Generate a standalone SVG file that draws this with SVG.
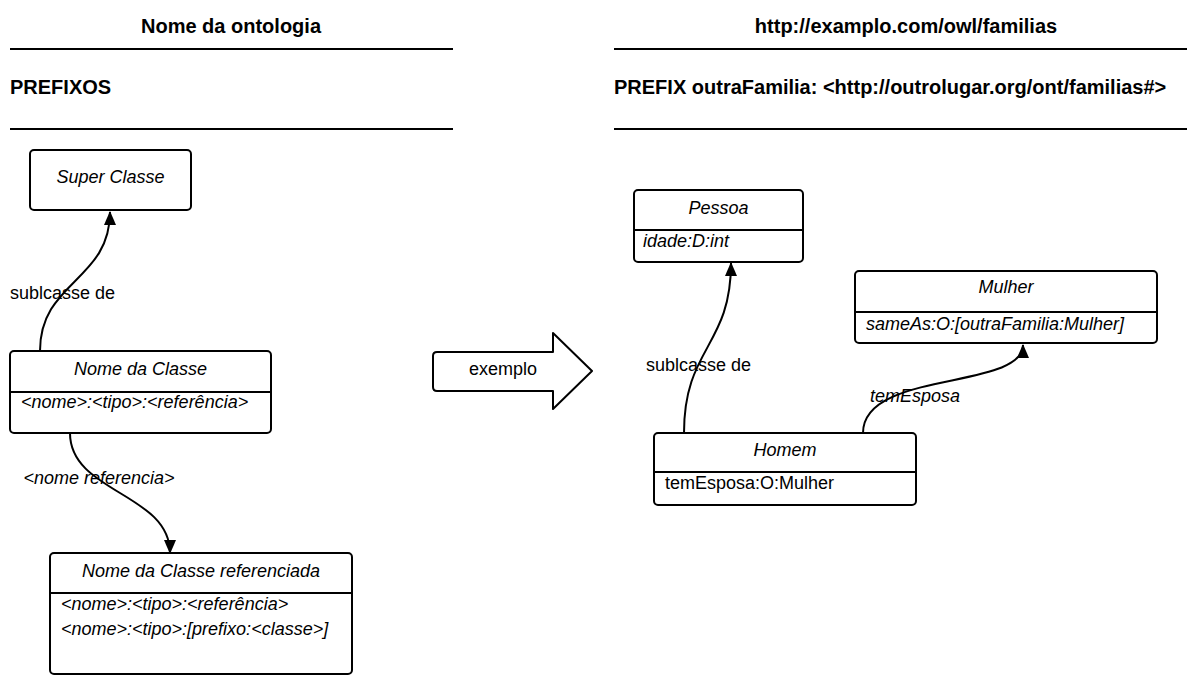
<svg xmlns="http://www.w3.org/2000/svg" width="1187" height="689" viewBox="0 0 1187 689">
  <style>
    text { font-family: "Liberation Sans", Arial, sans-serif; font-size: 18px; fill: #000; }
    .hdr { font-weight: bold; font-size: 20px; }
    .it { font-style: italic; }
    .mid { text-anchor: middle; }
    .box { fill: #fff; stroke: #000; stroke-width: 2; }
    .rule { stroke: #000; stroke-width: 2; }
    .edge { fill: none; stroke: #000; stroke-width: 2; }
  </style>
  <defs>
    <marker id="arrow" viewBox="0 0 14 12" refX="13" refY="6" markerWidth="14" markerHeight="12" markerUnits="userSpaceOnUse" orient="auto">
      <path d="M0,0 L14,6 L0,12 Z" fill="#000"/>
    </marker>
  </defs>

  <!-- left header -->
  <g id="header-left">
    <text class="hdr mid" x="231" y="33">Nome da ontologia</text>
    <line class="rule" x1="10" y1="49" x2="453" y2="49"/>
    <text class="hdr" x="10" y="94">PREFIXOS</text>
    <line class="rule" x1="10" y1="129" x2="453" y2="129"/>
  </g>

  <!-- right header -->
  <g id="header-right">
    <text class="hdr mid" x="906" y="33">http://examplo.com/owl/familias</text>
    <line class="rule" x1="614" y1="49" x2="1187" y2="49"/>
    <text class="hdr" x="614" y="94">PREFIX outraFamilia: &lt;http://outrolugar.org/ont/familias#&gt;</text>
    <line class="rule" x1="614" y1="129" x2="1187" y2="129"/>
  </g>

  <!-- connectors -->
  <g id="connectors">
    <path class="edge" d="M40,351 C40,281 110,281 110,212" marker-end="url(#arrow)"/>
    <path class="edge" d="M70,433 C70,493 170,493 170,553" marker-end="url(#arrow)"/>
    <path class="edge" d="M684,433 C684,347 731,347 731,263" marker-end="url(#arrow)"/>
    <path class="edge" d="M863,433 C863,370 1023,390 1023,345" marker-end="url(#arrow)"/>
    <text x="10" y="299">sublcasse de</text>
    <text class="it mid" x="99" y="484">&lt;nome referencia&gt;</text>
    <text x="646" y="371">sublcasse de</text>
    <text class="it" x="870" y="402">temEsposa</text>
  </g>

  <!-- generic classes -->
  <g id="super-classe">
    <rect class="box" x="30" y="150" width="161" height="60" rx="4"/>
    <text class="it mid" x="110.5" y="183">Super Classe</text>
  </g>

  <g id="nome-da-classe">
    <rect class="box" x="10" y="351" width="261" height="82" rx="4"/>
    <line class="rule" x1="10" y1="392" x2="271" y2="392"/>
    <text class="it mid" x="140.5" y="375">Nome da Classe</text>
    <text class="it" x="21" y="408">&lt;nome&gt;:&lt;tipo&gt;:&lt;referência&gt;</text>
  </g>

  <g id="classe-referenciada">
    <rect class="box" x="50" y="553" width="302" height="121" rx="4"/>
    <line class="rule" x1="50" y1="593" x2="352" y2="593"/>
    <text class="it mid" x="201" y="577">Nome da Classe referenciada</text>
    <text class="it" x="61" y="610">&lt;nome&gt;:&lt;tipo&gt;:&lt;referência&gt;</text>
    <text class="it" x="61" y="635">&lt;nome&gt;:&lt;tipo&gt;:[prefixo:&lt;classe&gt;]</text>
  </g>

  <!-- "exemplo" block arrow -->
  <g id="exemplo">
    <path class="box" d="M437,352 L553,352 L553,333 L592,371 L553,409 L553,391 L437,391 Q433,391 433,387 L433,356 Q433,352 437,352 Z" stroke-linejoin="round"/>
    <text class="mid" x="503" y="375">exemplo</text>
  </g>

  <!-- example classes -->
  <g id="pessoa">
    <rect class="box" x="634" y="190" width="169" height="72" rx="4"/>
    <line class="rule" x1="634" y1="230" x2="803" y2="230"/>
    <text class="it mid" x="718.5" y="214">Pessoa</text>
    <text class="it" x="643" y="247">idade:D:int</text>
  </g>

  <g id="mulher">
    <rect class="box" x="855" y="271" width="302" height="72" rx="4"/>
    <line class="rule" x1="855" y1="312" x2="1157" y2="312"/>
    <text class="it mid" x="1006" y="293">Mulher</text>
    <text class="it" x="866" y="330">sameAs:O:[outraFamilia:Mulher]</text>
  </g>

  <g id="homem">
    <rect class="box" x="654" y="433" width="262" height="72" rx="4"/>
    <line class="rule" x1="654" y1="472" x2="916" y2="472"/>
    <text class="it mid" x="785" y="456">Homem</text>
    <text x="665" y="489">temEsposa:O:Mulher</text>
  </g>
</svg>
